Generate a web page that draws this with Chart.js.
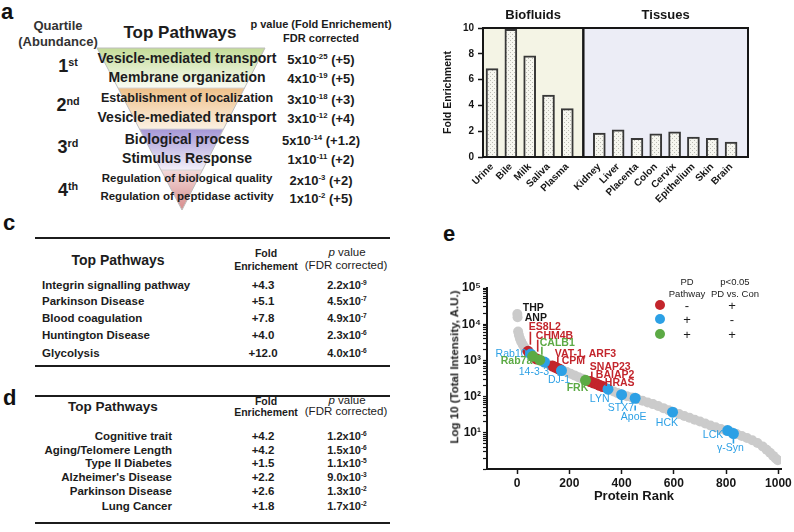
<!DOCTYPE html>
<html lang="en">
<head>
<meta charset="utf-8">
<title>Urinary proteome pathways</title>
<script src="https://cdn.jsdelivr.net/npm/chart.js@4.4.1/dist/chart.umd.min.js"></script>
<style>
  html, body { margin: 0; padding: 0; background: #fff; }
  body {
    position: relative; width: 794px; height: 532px; overflow: hidden;
    font-family: 'Liberation Sans', Arial, sans-serif; color: #1c1c1c;
  }
  .abs { position: absolute; white-space: nowrap; line-height: 1; }
  .c { transform: translate(-50%, -50%); }
  .lm { transform: translate(0, -50%); }
  .rm { transform: translate(-100%, -50%); }
  .bold { font-weight: bold; }
  .panel-letter { font-size: 22px; font-weight: bold; color: #111; }
  .rule { position: absolute; height: 1.5px; background: #1c1c1c; }
  sup { font-size: 0.6em; vertical-align: top; line-height: 1; }
  canvas { position: absolute; }
</style>
</head>
<body>
<svg class="abs" width="400" height="215" style="left:0;top:0">
  <defs>
    <linearGradient id="bandGreen" x1="0" y1="0" x2="0" y2="1">
      <stop offset="0" stop-color="#c4dc98"/><stop offset="1" stop-color="#fafcf4"/>
    </linearGradient>
    <linearGradient id="bandOrange" x1="0" y1="0" x2="0" y2="1">
      <stop offset="0" stop-color="#eec089"/><stop offset="1" stop-color="#fcf1e3"/>
    </linearGradient>
    <linearGradient id="bandPurple" x1="0" y1="0" x2="0" y2="1">
      <stop offset="0" stop-color="#a597d6"/><stop offset="1" stop-color="#f3f0fa"/>
    </linearGradient>
    <linearGradient id="bandPink" x1="0" y1="0" x2="0" y2="1">
      <stop offset="0" stop-color="#f3dada"/><stop offset="1" stop-color="#d68a8a"/>
    </linearGradient>
    <clipPath id="funnelClip"><polygon points="97,48 265,48 182,210"/></clipPath>
  </defs>
  <g clip-path="url(#funnelClip)">
    <rect x="90" y="48" width="180" height="40" fill="url(#bandGreen)"/>
    <rect x="90" y="88" width="180" height="41" fill="url(#bandOrange)"/>
    <rect x="90" y="129" width="180" height="41" fill="url(#bandPurple)"/>
    <rect x="90" y="170" width="180" height="41" fill="url(#bandPink)"/>
    <path d="M90 88H270M90 129H270M90 170H270" stroke="#d4d4d4" stroke-width="1"/>
  </g>
  <polygon points="97,48 265,48 182,210" fill="none" stroke="#bdbdbd" stroke-width="1"/>
</svg>
<div id="panelA"></div>
<div id="panelC"></div>
<div id="panelD"></div>
<canvas id="enrichmentChart" width="364" height="205" style="left:430px;top:0"></canvas>
<canvas id="rankChart" width="354" height="250" style="left:440px;top:260px"></canvas>
<div id="panelE"></div>
<script>
// panel a
const quartileNumbers = ['1', '2', '3', '4'];
const quartileSuffixes = ['st', 'nd', 'rd', 'th'];
const funnelPathways = ['Vesicle-mediated transport', 'Membrane organization', 'Establishment of localization', 'Vesicle-mediated transport', 'Biological process', 'Stimulus Response', 'Regulation of biological quality', 'Regulation of peptidase activity'];
const funnelPMantissa = [5, 4, 3, 3, 5, 1, 2, 1];
const funnelPExponent = [-25, -19, -18, -12, -14, -11, -3, -2];
const funnelFold = ['+5', '+5', '+3', '+4', '+1.2', '+2', '+2', '+5'];

// panel b
const groupTitles = ['Biofluids', 'Tissues'];
const biofluidLabels = ['Urine', 'Bile', 'Milk', 'Saliva', 'Plasma'];
const biofluidFold = [6.85, 9.9, 7.85, 4.8, 3.75];
const tissueLabels = ['Kidney', 'Liver', 'Placenta', 'Colon', 'Cervix', 'Epithelium', 'Skin', 'Brain'];
const tissueFold = [1.85, 2.1, 1.45, 1.8, 1.95, 1.55, 1.45, 1.15];
const foldTicks = [0, 2, 4, 6, 8, 10];

// panel c
const tableCPathways = ['Integrin signalling pathway', 'Parkinson Disease', 'Blood coagulation', 'Huntington Disease', 'Glycolysis'];
const tableCFold = [4.3, 5.1, 7.8, 4.0, 12.0];
const tableCPMantissa = [2.2, 4.5, 4.9, 2.3, 4.0];
const tableCPExponent = [-9, -7, -7, -6, -6];

// panel d
const tableDPathways = ['Cognitive trait', 'Aging/Telomere Length', 'Type II Diabetes', "Alzheimer's Disease", 'Parkinson Disease', 'Lung Cancer'];
const tableDFold = [4.2, 4.2, 1.5, 2.2, 2.6, 1.8];
const tableDPMantissa = [1.2, 1.5, 1.1, 9.0, 1.3, 1.7];
const tableDPExponent = [-6, -6, -5, -3, -2, -2];

// panel e
const grayRank = [1, 2, 4, 7, 11, 16, 22, 29, 36, 44, 52, 60, 70, 80, 90, 100, 115, 130, 145, 160, 175, 190, 205, 220, 235, 250, 265, 280, 295, 310, 325, 340, 355, 370, 385, 400, 420, 440, 460, 480, 500, 520, 540, 560, 580, 600, 620, 640, 660, 680, 700, 720, 740, 760, 780, 800, 820, 840, 860, 880, 900, 920, 940, 955, 968, 980, 990, 998];
const grayIntensity = [19000, 15500, 6300, 5000, 4000, 3300, 2700, 2250, 1950, 1700, 1500, 1350, 1200, 1080, 990, 910, 810, 720, 650, 590, 530, 480, 430, 385, 345, 310, 280, 250, 225, 205, 188, 170, 153, 138, 125, 114, 103, 94, 86, 77, 69, 62, 55, 48, 42, 37, 33, 29, 26, 23, 20.5, 18, 16, 14.2, 12.8, 11.5, 10.3, 9.2, 8.2, 7.2, 6.2, 5.2, 4.2, 3.4, 2.8, 2.3, 1.95, 1.75];
const redRank = [42, 74, 136, 145, 154, 163, 280, 292, 304, 316, 328];
const redIntensity = [1780, 1100, 700, 650, 610, 570, 260, 240, 225, 205, 190];
const blueRank = [52, 105, 170, 348, 400, 452, 595, 806, 828];
const blueIntensity = [1500, 900, 525, 160, 113, 90, 37, 11.5, 9.5];
const greenRank = [60, 87, 262];
const greenIntensity = [1300, 1030, 282];
const rankTicks = [0, 200, 400, 600, 800, 1000];
const intensityTicks = [10, 100, 1000, 10000, 100000];
const legendPathway = ['-', '+', '+'];
const legendSignificant = ['+', '-', '+'];

const RED = '#c3252c';
const BLUE = '#2ca0e5';
const GREEN = '#5caa45';
const GRAY = '#cbcbcb';
const INK = '#161616';
const FONT = "'Liberation Sans', Arial, sans-serif";
const SUP = ['\u2070', '\u00b9', '\u00b2', '\u00b3', '\u2074', '\u2075'];

const proteinNotes = [
    { text: 'THP', color: INK, rank: 22, intensity: 28500 },
    { text: 'ANP', color: INK, rank: 29.5, intensity: 15100 },
    { text: 'ES8L2', color: RED, rank: 45, intensity: 8500 },
    { text: 'CHM4B', color: RED, rank: 72, intensity: 4820 },
    { text: 'CALB1', color: GREEN, rank: 87, intensity: 3090 },
    { text: 'Rab10', color: BLUE, rank: -82, intensity: 1535 },
    { text: 'Rab7a', color: GREEN, rank: -62.5, intensity: 985 },
    { text: '14-3-3', color: BLUE, rank: 6.5, intensity: 490 },
    { text: 'VAT-1, ARF3', color: RED, rank: 144, intensity: 1535 },
    { text: 'CPM', color: RED, rank: 171, intensity: 985 },
    { text: 'DJ-1', color: BLUE, rank: 118, intensity: 294 },
    { text: 'FRK', color: GREEN, rank: 190, intensity: 177 },
    { text: 'SNAP23', color: RED, rank: 278.5, intensity: 673 },
    { text: 'BAIAP2', color: RED, rank: 301.5, intensity: 405 },
    { text: 'HRAS', color: RED, rank: 336, intensity: 243 },
    { text: 'LYN', color: BLUE, rank: 278.5, intensity: 88 },
    { text: 'STX7', color: BLUE, rank: 347.5, intensity: 46.7 },
    { text: 'ApoE', color: BLUE, rank: 397, intensity: 26.4 },
    { text: 'HCK', color: BLUE, rank: 531, intensity: 18 },
    { text: 'LCK', color: BLUE, rank: 711, intensity: 8.4 },
    { text: '\u03b3-Syn', color: BLUE, rank: 765, intensity: 3.68 },
];

const leaderLines = [
    { color: RED, from: [51, 6210], to: [51, 2720] },
    { color: RED, from: [79, 3730], to: [79, 1743] },
    { color: GREEN, from: [95, 2395], to: [95, 1441] },
    { color: RED, from: [156, 1268], to: [156, 813] },
    { color: RED, from: [286, 490], to: [286, 334] },
    { color: RED, from: [313, 243], to: [332, 243] },
    { color: BLUE, from: [400, 93.8], to: [400, 64] },
    { color: BLUE, from: [452, 56.5], to: [452, 41.1] },
    { color: BLUE, from: [828, 7.4], to: [828, 5.05] },
];

const sci = (m, e) => `${m}x10<sup>${e}</sup>`;

const addText = (root, html, x, y, cls, css = '') => {
    const el = document.createElement('div');
    el.className = `abs ${cls}`;
    el.style.cssText = `left:${x}px;top:${y}px;${css}`;
    el.innerHTML = html;
    root.appendChild(el);
    return el;
};

const addRule = (root, x, y, width) => {
    const el = document.createElement('div');
    el.className = 'rule';
    el.style.cssText = `left:${x}px;top:${y}px;width:${width}px`;
    root.appendChild(el);
};

const FUNNEL_ROW_Y = [58, 77, 98, 117, 139, 158, 179, 197];
const FUNNEL_ROW_SIZE = [14, 14, 12.5, 14, 14, 14, 11.5, 11.5];
const QUARTILE_Y = [66, 105, 147, 190];

const renderFunnel = () => {
    const root = document.getElementById('panelA');
    addText(root, 'a', 1, 12, 'lm panel-letter');
    addText(root, 'Quartile', 58, 25, 'c bold', 'font-size:13px;color:#333');
    addText(root, '(Abundance)', 58, 41, 'c bold', 'font-size:13px;color:#333');
    addText(root, 'Top Pathways', 180, 32, 'c bold', 'font-size:17px');
    addText(root, 'p value (Fold Enrichement)', 321, 24, 'c bold', 'font-size:11px');
    addText(root, 'FDR corrected', 321, 38, 'c bold', 'font-size:11px');

    quartileNumbers.forEach((n, i) => {
        addText(root, `${n}<sup>${quartileSuffixes[i]}</sup>`, 68, QUARTILE_Y[i], 'c bold', 'font-size:18px');
    });

    funnelPathways.forEach((name, i) => {
        addText(root, name, 187, FUNNEL_ROW_Y[i], 'c bold', `font-size:${FUNNEL_ROW_SIZE[i]}px`);
        addText(root, `${sci(funnelPMantissa[i], funnelPExponent[i])} (${funnelFold[i]})`, 321, FUNNEL_ROW_Y[i] + 1, 'c bold', 'font-size:13px');
    });
};

const renderTable = (root, layout, pathways, fold, pMantissa, pExponent) => {
    const { letter, letterY, top, bottom, headY, headX, headSize, rowY, nameX, nameAlign } = layout;
    addText(root, letter, 3, letterY, 'lm panel-letter');
    addRule(root, 35, top, 355);
    addRule(root, 35, bottom, 355);
    addText(root, 'Top Pathways', headX, (headY[0] + headY[1]) / 2, 'c bold', `font-size:${headSize}px`);
    addText(root, 'Fold', 266, headY[0], 'c bold', 'font-size:10.5px');
    addText(root, 'Enrichement', 266, headY[1], 'c bold', 'font-size:10.5px');
    addText(root, '<i>p</i> value', 347, headY[0], 'c', 'font-size:11.5px');
    addText(root, '(FDR corrected)', 346, headY[1], 'c', 'font-size:11.5px');

    pathways.forEach((name, i) => {
        addText(root, name, nameX, rowY[i], `${nameAlign} bold`, 'font-size:11.5px');
        addText(root, `+${fold[i].toFixed(1)}`, 263, rowY[i], 'c bold', 'font-size:11.5px');
        addText(root, sci(pMantissa[i].toFixed(1), pExponent[i]), 347, rowY[i] - 1, 'c bold', 'font-size:11px');
    });
};

const renderTables = () => {
    renderTable(document.getElementById('panelC'), {
        letter: 'c', letterY: 223, top: 237, bottom: 365,
        headY: [253, 266], headX: 118, headSize: 14, rowY: [286, 302, 319, 336, 354], nameX: 42, nameAlign: 'lm',
    }, tableCPathways, tableCFold, tableCPMantissa, tableCPExponent);

    renderTable(document.getElementById('panelD'), {
        letter: 'd', letterY: 398, top: 395, bottom: 522,
        headY: [401, 412], headX: 113, headSize: 13.5, rowY: [437, 451, 464, 478, 492, 507], nameX: 172, nameAlign: 'rm',
    }, tableDPathways, tableDFold, tableDPMantissa, tableDPExponent);
};

const makeStipple = () => {
    const tile = document.createElement('canvas');
    tile.width = 4;
    tile.height = 4;
    const g = tile.getContext('2d');
    g.fillStyle = '#f6f6ef';
    g.fillRect(0, 0, 4, 4);
    g.fillStyle = '#bcbcb4';
    g.fillRect(0, 0, 1, 1);
    g.fillRect(2, 2, 1, 1);
    return g.createPattern(tile, 'repeat');
};

const initEnrichmentChart = () => {
    const canvas = document.getElementById('enrichmentChart');
    const GROUP_GAP = 0.7;
    const sampleLabels = [...biofluidLabels, ...tissueLabels];
    const sampleSlots = sampleLabels.map((_, i) => (i < biofluidLabels.length ? i : i + GROUP_GAP));
    const barData = [...biofluidFold, ...tissueFold].map((y, i) => ({ x: sampleSlots[i], y }));

    const splitPixel = (x) => {
        const n = biofluidLabels.length;
        return (x.getPixelForValue(sampleSlots[n - 1]) + x.getPixelForValue(sampleSlots[n])) / 2;
    };

    const groupBoxes = {
        id: 'groupBoxes',
        beforeDraw(chart) {
            const { ctx, chartArea: { top, bottom, left, right }, scales: { x } } = chart;
            const split = splitPixel(x);
            ctx.save();
            ctx.fillStyle = '#f4f4e5';
            ctx.fillRect(left, top, split - left, bottom - top);
            ctx.fillStyle = '#ecedf6';
            ctx.fillRect(split, top, right - split, bottom - top);
            ctx.restore();
        },
        afterDatasetsDraw(chart) {
            const { ctx, chartArea: { top, bottom, left, right }, scales: { x } } = chart;
            const split = splitPixel(x);
            ctx.save();
            ctx.strokeStyle = INK;
            ctx.lineWidth = 2;
            ctx.strokeRect(left, top, split - left, bottom - top);
            ctx.strokeRect(split, top, right - split, bottom - top);
            ctx.fillStyle = INK;
            ctx.font = `bold 13px ${FONT}`;
            ctx.textAlign = 'center';
            ctx.textBaseline = 'middle';
            ctx.fillText(groupTitles[0], (left + split) / 2, 15);
            ctx.fillText(groupTitles[1], (split + right) / 2, 15);
            ctx.restore();
        },
    };

    new Chart(canvas, {
        type: 'bar',
        data: {
            datasets: [
                {
                    label: 'Fold Enrichment',
                    data: barData,
                    backgroundColor: makeStipple(),
                    borderColor: '#383838',
                    borderWidth: 2,
                    barThickness: 12,
                },
            ],
        },
        options: {
            responsive: false,
            animation: false,
            layout: { padding: { top: 28, right: 46, left: 0, bottom: 0 } },
            plugins: {
                legend: { display: false },
                tooltip: { enabled: false },
            },
            scales: {
                x: {
                    type: 'linear',
                    offset: false,
                    min: -0.48,
                    max: sampleSlots[sampleSlots.length - 1] + 0.9,
                    afterBuildTicks: (scale) => {
                        scale.ticks = sampleSlots.map((value) => ({ value }));
                    },
                    afterFit: (scale) => {
                        scale.height = 48;
                    },
                    grid: { display: false, drawTicks: false, offset: false },
                    border: { display: false },
                    ticks: {
                        autoSkip: false,
                        minRotation: 45,
                        maxRotation: 45,
                        padding: 4,
                        color: INK,
                        font: { family: FONT, size: 10, weight: 'bold' },
                        callback: (value, index) => sampleLabels[index] ?? '',
                    },
                },
                y: {
                    min: 0,
                    max: 10,
                    afterBuildTicks: (scale) => {
                        scale.ticks = foldTicks.map((value) => ({ value }));
                    },
                    afterFit: (scale) => {
                        scale.width = 53;
                    },
                    grid: { drawOnChartArea: false, drawTicks: true, tickLength: 5, tickWidth: 1.5, tickColor: INK },
                    border: { display: false },
                    ticks: { padding: 4, color: INK, font: { family: FONT, size: 10, weight: 'bold' } },
                    title: {
                        display: true,
                        text: 'Fold Enrichment',
                        color: INK,
                        font: { family: FONT, size: 10.5, weight: 'bold' },
                        padding: { top: 12, bottom: 0 },
                    },
                },
            },
        },
        plugins: [groupBoxes],
    });
};

const logTicks = () => {
    const ticks = [];
    for (let e = 0; e < 5; e += 1) {
        for (let m = 1; m < 10; m += 1) {
            ticks.push({ value: m * 10 ** e, major: m === 1 });
        }
    }
    ticks.push({ value: 1e5, major: true });
    return ticks;
};

const noteLabels = {
    id: 'noteLabels',
    afterDatasetsDraw(chart) {
        const { ctx, scales: { x, y } } = chart;
        ctx.save();
        ctx.lineWidth = 1.6;
        leaderLines.forEach(({ color, from, to }) => {
            ctx.strokeStyle = color;
            ctx.beginPath();
            ctx.moveTo(x.getPixelForValue(from[0]), y.getPixelForValue(from[1]));
            ctx.lineTo(x.getPixelForValue(to[0]), y.getPixelForValue(to[1]));
            ctx.stroke();
        });
        ctx.textAlign = 'left';
        ctx.textBaseline = 'middle';
        proteinNotes.forEach(({ text, color, rank, intensity }) => {
            ctx.fillStyle = color;
            ctx.font = `${color === BLUE ? 'normal' : 'bold'} 10.5px ${FONT}`;
            ctx.fillText(text, x.getPixelForValue(rank), y.getPixelForValue(intensity));
        });
        ctx.restore();
    },
};

const initRankChart = () => {
    const canvas = document.getElementById('rankChart');
    const toPoints = (xs, ys) => xs.map((x, i) => ({ x, y: ys[i] }));
    const series = (label, ranks, values, color, radius, order) => ({
        label,
        data: toPoints(ranks, values),
        backgroundColor: color,
        borderWidth: 0,
        pointRadius: radius,
        pointHoverRadius: radius,
        order,
    });

    new Chart(canvas, {
        type: 'scatter',
        data: {
            datasets: [
                series('PD pathway +, p<0.05 +', greenRank, greenIntensity, GREEN, 5.5, 0),
                series('PD pathway +, p<0.05 -', blueRank, blueIntensity, BLUE, 5.5, 1),
                series('PD pathway -, p<0.05 +', redRank, redIntensity, RED, 5.5, 2),
                series('All proteins', grayRank, grayIntensity, GRAY, 5, 3),
            ],
        },
        options: {
            responsive: false,
            animation: false,
            layout: { padding: { top: 28, right: 13, left: 0, bottom: 0 } },
            plugins: {
                legend: { display: false },
                tooltip: { enabled: false },
            },
            scales: {
                x: {
                    type: 'linear',
                    min: -115,
                    max: 1010,
                    afterBuildTicks: (scale) => {
                        scale.ticks = rankTicks.map((value) => ({ value }));
                    },
                    afterFit: (scale) => {
                        scale.height = 41;
                    },
                    grid: { drawOnChartArea: false, tickLength: 5, tickWidth: 1.5, tickColor: INK },
                    border: { color: INK, width: 2 },
                    ticks: {
                        maxRotation: 0,
                        padding: 2,
                        color: INK,
                        font: { family: FONT, size: 12, weight: 'bold' },
                        callback: (value) => String(value),
                    },
                    title: {
                        display: true,
                        text: 'Protein Rank',
                        color: INK,
                        font: { family: FONT, size: 13, weight: 'bold' },
                        padding: { top: 0, bottom: 6 },
                    },
                },
                y: {
                    type: 'logarithmic',
                    min: 1,
                    max: 1e5,
                    afterBuildTicks: (scale) => {
                        scale.ticks = logTicks();
                    },
                    afterFit: (scale) => {
                        scale.width = 47;
                    },
                    grid: { drawOnChartArea: false, tickLength: 4, tickWidth: 1.2, tickColor: INK },
                    border: { color: INK, width: 2 },
                    ticks: {
                        autoSkip: false,
                        padding: 2,
                        color: INK,
                        font: { family: FONT, size: 12, weight: 'bold' },
                        callback: (value) => (intensityTicks.includes(value) ? `10${SUP[Math.round(Math.log10(value))]}` : ''),
                    },
                },
            },
        },
        plugins: [noteLabels],
    });
};

const LEGEND_Y = [305, 319, 334];

const renderRankLegend = () => {
    const root = document.getElementById('panelE');
    addText(root, 'e', 443, 234, 'lm panel-letter');
    addText(root, 'Log 10 (Total Intensity, A.U.)', 455, 367, 'bold', 'font-size:11.5px;transform:translate(-50%,-50%) rotate(-90deg)');
    addText(root, 'PD', 687, 282, 'c', 'font-size:9.5px');
    addText(root, 'Pathway', 687, 294, 'c', 'font-size:9.5px');
    addText(root, 'p&lt;0.05', 735, 282, 'c', 'font-size:9.5px');
    addText(root, 'PD vs. Con', 735, 294, 'c', 'font-size:9.5px');

    [RED, BLUE, GREEN].forEach((color, i) => {
        addText(root, '', 660, LEGEND_Y[i], 'c', `width:10px;height:10px;border-radius:50%;background:${color}`);
        addText(root, legendPathway[i], 687, LEGEND_Y[i], 'c', 'font-size:13px');
        addText(root, legendSignificant[i], 732, LEGEND_Y[i], 'c', 'font-size:13px');
    });
};

document.addEventListener('DOMContentLoaded', () => {
    renderFunnel();
    renderTables();
    renderRankLegend();
    initEnrichmentChart();
    initRankChart();
});
</script>
</body>
</html>
